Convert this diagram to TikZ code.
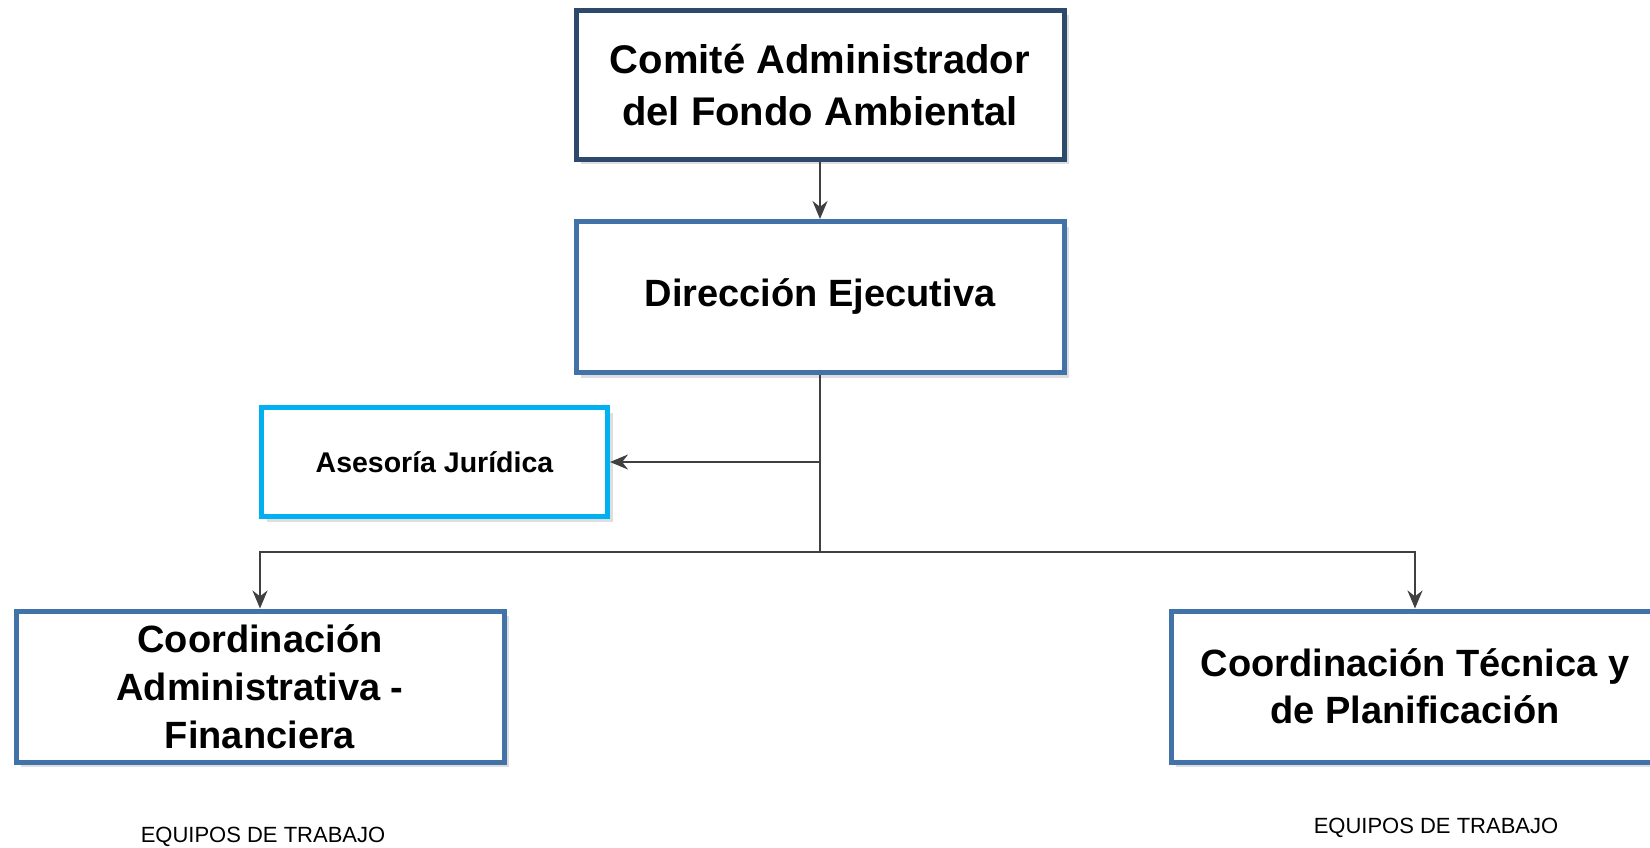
\documentclass[tikz,border=0pt]{standalone}
\usepackage{fontspec}
\setmainfont{Liberation Sans}
\usetikzlibrary{arrows.meta,positioning,shadows}
\definecolor{navyline}{HTML}{2D4A6C}
\definecolor{steelline}{HTML}{4173A8}
\definecolor{cyanline}{HTML}{00B0F0}
\definecolor{linkgray}{HTML}{404040}

\begin{document}
\begin{tikzpicture}[
    x = 1pt, y = 1pt,
    > = {Stealth[length=18pt,width=15pt]}, % arrow head style
    node distance = 57pt, % gap between boxes
    line width = 2pt % connector line
  ]

  \tikzset{unitbox/.style={
      draw = steelline,
      line width = 5pt,
      fill = white,
      align = center,
      font = \bfseries\fontsize{38}{48}\selectfont,
      minimum width = 488pt,
      minimum height = 151pt,
      drop shadow = {shadow xshift=5pt, shadow yshift=-5pt, fill=black!13, opacity=1}
    },
    teamlabel/.style={font = \fontsize{22}{26}\selectfont},
    link/.style={draw = linkgray, line width = 2.2pt, -{Stealth[length=18pt,width=15pt]}}
  }

  \useasboundingbox (0,0) rectangle (1650,-848);

  \node[unitbox, draw=navyline, minimum height=149pt,
        font=\bfseries\fontsize{40}{52}\selectfont] (comite) at (820,-85)
        {Comité Administrador\\del Fondo Ambiental};
  \node[unitbox] (direccion) [below=of comite] {Dirección Ejecutiva};

  \node[unitbox, draw=cyanline, minimum width=346pt, minimum height=109pt,
        font=\bfseries\fontsize{28.5}{34}\selectfont] (asesoria) at (434.5,-462)
        {Asesoría Jurídica};

  \node[unitbox] (admin) at (260,-686.5) {Coordinación\\Administrativa -\\Financiera};
  \node[unitbox, font=\bfseries\fontsize{38}{47}\selectfont] (tecnica) at (1415,-686.5)
        {Coordinación Técnica y\\de Planificación};

  \node[teamlabel] (equiposA) at (263,-837) {EQUIPOS DE TRABAJO};
  \node[teamlabel] (equiposB) at (1436,-828) {EQUIPOS DE TRABAJO};

  \coordinate (fork) at ([yshift=-177pt]direccion.south);

  \draw[link] (comite) -- (direccion);
  \draw[link, -] (direccion) -- (fork);
  \draw[link] (direccion.south |- asesoria.east) -- (asesoria.east);
  \draw[link] (fork) -| (admin.north);
  \draw[link] (fork) -| (tecnica.north);
\end{tikzpicture}
\end{document}
